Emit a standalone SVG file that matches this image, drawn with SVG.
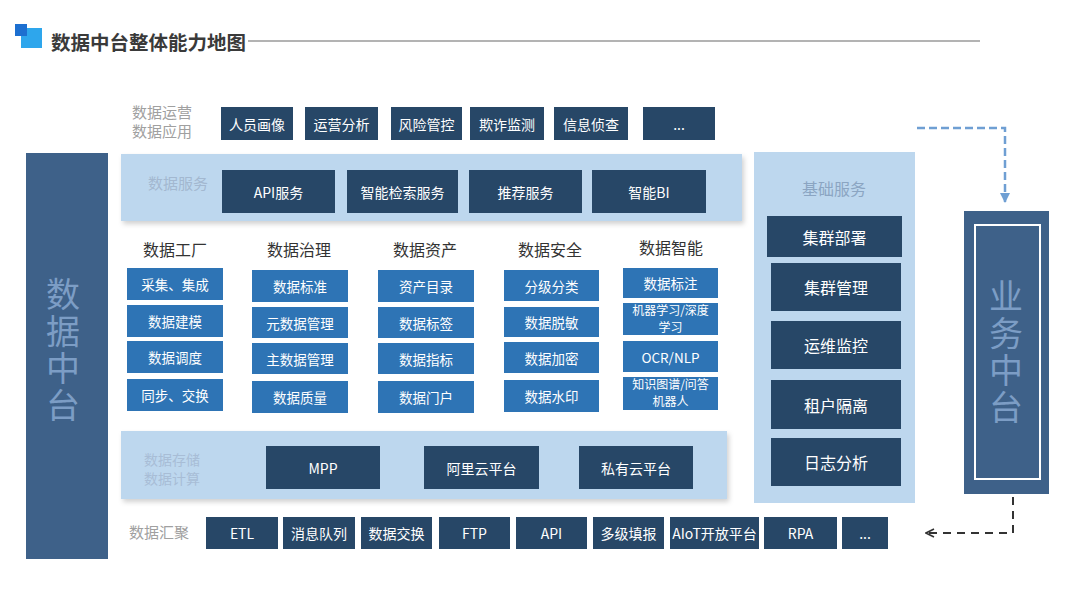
<svg xmlns="http://www.w3.org/2000/svg" width="1080" height="608" viewBox="0 0 1080 608">
<defs>
<filter id="sh" x="-5%" y="-10%" width="110%" height="130%">
<feDropShadow dx="2" dy="3" stdDeviation="2.5" flood-color="#000" flood-opacity="0.18"/>
</filter>
<marker id="ah1" viewBox="0 0 10 10" refX="9" refY="5" markerWidth="4" markerHeight="4" orient="auto">
<path d="M0,0 L10,5 L0,10 z" fill="#6f9fd3"/>
</marker>
<marker id="ah2" viewBox="0 0 10 10" refX="9" refY="5" markerWidth="5" markerHeight="5" orient="auto">
<path d="M1,1 L9,5 L1,9" fill="none" stroke="#333" stroke-width="1.6"/>
</marker>
</defs>
<style>
text{font-family:"Noto Sans CJK SC","Liberation Sans",sans-serif;}
.dk{fill:#274767;}
.md{fill:#2e74b5;}
.band{fill:#bdd7ee;}
.wt{fill:#fff;font-size:14px;text-anchor:middle;dominant-baseline:central;}
.wm{fill:#fff;font-size:13.5px;text-anchor:middle;dominant-baseline:central;}
.w2{fill:#fff;font-size:12px;text-anchor:middle;}
.wb{fill:#fff;font-size:16px;text-anchor:middle;dominant-baseline:central;}
.gl{fill:#a0a0a0;font-size:15px;}
.bl{fill:#a3b8d0;font-size:15px;}
.bs{fill:#a8bdd6;font-size:14px;}
.hd{fill:#333;font-size:16px;text-anchor:middle;dominant-baseline:central;}
.vt{fill:#7c9dc5;font-size:34px;text-anchor:middle;writing-mode:vertical-rl;letter-spacing:3px;}
</style>
<rect width="1080" height="608" fill="#fff"/>

<g id="title">
<rect x="21" y="28" width="21" height="20" fill="#2ea6ec"/>
<rect x="15" y="24" width="12" height="12" fill="#1d6fd0"/>
<text x="51" y="41" font-size="19.5" font-weight="bold" fill="#3a3a3a" dominant-baseline="central">数据中台整体能力地图</text>
<line x1="248" y1="41" x2="980" y2="41" stroke="#9a9a9a" stroke-width="1.5"/>
</g>

<g id="zhongtai">
<rect x="26" y="153" width="82" height="406" fill="#3e6189"/>
<text class="vt" x="63" y="351">数据中台</text>
</g>

<g id="app-row">
<text class="gl" x="132" y="117.5">数据运营<tspan x="132" dy="19">数据应用</tspan></text>
<rect class="dk" x="221" y="107" width="72" height="33"/><text class="wt" x="257" y="123.5">人员画像</text>
<rect class="dk" x="305" y="107" width="73" height="33"/><text class="wt" x="341.5" y="123.5">运营分析</text>
<rect class="dk" x="391" y="107" width="71" height="33"/><text class="wt" x="426.5" y="123.5">风险管控</text>
<rect class="dk" x="470" y="107" width="74" height="33"/><text class="wt" x="507" y="123.5">欺诈监测</text>
<rect class="dk" x="554" y="107" width="74" height="33"/><text class="wt" x="591" y="123.5">信息侦查</text>
<rect class="dk" x="643" y="107" width="72" height="33"/><text class="wt" x="679" y="123.5">...</text>
</g>

<g id="service">
<rect class="band" x="121" y="154" width="621" height="67" filter="url(#sh)"/>
<text class="bl" x="148" y="188.5">数据服务</text>
<rect class="dk" x="222" y="170" width="113" height="43"/><text class="wt" x="278.5" y="191.5">API服务</text>
<rect class="dk" x="347" y="170" width="111" height="43"/><text class="wt" x="402.5" y="191.5">智能检索服务</text>
<rect class="dk" x="469" y="170" width="113" height="43"/><text class="wt" x="525.5" y="191.5">推荐服务</text>
<rect class="dk" x="592" y="170" width="114" height="43"/><text class="wt" x="649" y="191.5">智能BI</text>
</g>

<g id="factory">
<text class="hd" x="175" y="249">数据工厂</text>
<rect class="md" x="127" y="268" width="96" height="32"/><text class="wm" x="175" y="284">采集、集成</text>
<rect class="md" x="127" y="305" width="96" height="32"/><text class="wm" x="175" y="321">数据建模</text>
<rect class="md" x="127" y="341" width="96" height="32"/><text class="wm" x="175" y="357">数据调度</text>
<rect class="md" x="127" y="379" width="96" height="32"/><text class="wm" x="175" y="395">同步、交换</text>
</g>

<g id="governance">
<text class="hd" x="299" y="249">数据治理</text>
<rect class="md" x="252" y="270" width="96" height="32"/><text class="wm" x="300" y="286">数据标准</text>
<rect class="md" x="252" y="307" width="96" height="31"/><text class="wm" x="300" y="322.5">元数据管理</text>
<rect class="md" x="252" y="343" width="96" height="31"/><text class="wm" x="300" y="358.5">主数据管理</text>
<rect class="md" x="252" y="381" width="96" height="32"/><text class="wm" x="300" y="397">数据质量</text>
</g>

<g id="asset">
<text class="hd" x="425" y="249">数据资产</text>
<rect class="md" x="378" y="270" width="96" height="32"/><text class="wm" x="426" y="286">资产目录</text>
<rect class="md" x="378" y="307" width="96" height="31"/><text class="wm" x="426" y="322.5">数据标签</text>
<rect class="md" x="378" y="343" width="96" height="31"/><text class="wm" x="426" y="358.5">数据指标</text>
<rect class="md" x="378" y="381" width="96" height="32"/><text class="wm" x="426" y="397">数据门户</text>
</g>

<g id="security">
<text class="hd" x="550" y="249">数据安全</text>
<rect class="md" x="504" y="270" width="95" height="31"/><text class="wm" x="551.5" y="285.5">分级分类</text>
<rect class="md" x="504" y="307" width="95" height="30"/><text class="wm" x="551.5" y="322">数据脱敏</text>
<rect class="md" x="504" y="342" width="95" height="31"/><text class="wm" x="551.5" y="357.5">数据加密</text>
<rect class="md" x="504" y="380" width="95" height="32"/><text class="wm" x="551.5" y="396">数据水印</text>
</g>

<g id="intelligence">
<text class="hd" x="671" y="247">数据智能</text>
<rect class="md" x="623" y="268" width="95" height="30"/><text class="wm" x="670.5" y="283">数据标注</text>
<rect class="md" x="623" y="303" width="95" height="32"/><text class="w2" x="670.5" y="314.5">机器学习/深度<tspan x="670.5" dy="17">学习</tspan></text>
<rect class="md" x="623" y="341" width="95" height="31"/><text class="wm" x="670.5" y="356.5">OCR/NLP</text>
<rect class="md" x="623" y="377" width="95" height="33"/><text class="w2" x="670.5" y="389">知识图谱/问答<tspan x="670.5" dy="17">机器人</tspan></text>
</g>

<g id="storage">
<rect class="band" x="121" y="431" width="606" height="68" filter="url(#sh)"/>
<text class="bs" x="144" y="465">数据存储<tspan x="144" dy="19">数据计算</tspan></text>
<rect class="dk" x="266" y="446" width="114" height="43"/><text class="wt" x="323" y="467.5">MPP</text>
<rect class="dk" x="424" y="446" width="115" height="43"/><text class="wt" x="481.5" y="467.5">阿里云平台</text>
<rect class="dk" x="579" y="446" width="114" height="43"/><text class="wt" x="636" y="467.5">私有云平台</text>
</g>

<g id="base">
<rect class="band" x="754" y="152" width="161" height="351"/>
<text x="834" y="188" font-size="16" fill="#8ba5c2" text-anchor="middle" dominant-baseline="central">基础服务</text>
<rect class="dk" x="767" y="216" width="135" height="41"/><text class="wb" x="834.5" y="236.5">集群部署</text>
<rect class="dk" x="771" y="263" width="130" height="48"/><text class="wb" x="836" y="287">集群管理</text>
<rect class="dk" x="771" y="321" width="130" height="48"/><text class="wb" x="836" y="345">运维监控</text>
<rect class="dk" x="771" y="380" width="130" height="49"/><text class="wb" x="836" y="404.5">租户隔离</text>
<rect class="dk" x="771" y="438" width="130" height="48"/><text class="wb" x="836" y="462">日志分析</text>
</g>

<g id="collect">
<text class="gl" x="129" y="537.5">数据汇聚</text>
<rect class="dk" x="206" y="517" width="72" height="32"/><text class="wt" x="242" y="533">ETL</text>
<rect class="dk" x="283" y="517" width="72" height="32"/><text class="wt" x="319" y="533">消息队列</text>
<rect class="dk" x="361" y="517" width="71" height="32"/><text class="wt" x="396.5" y="533">数据交换</text>
<rect class="dk" x="439" y="517" width="71" height="32"/><text class="wt" x="474.5" y="533">FTP</text>
<rect class="dk" x="516" y="517" width="71" height="32"/><text class="wt" x="551.5" y="533">API</text>
<rect class="dk" x="593" y="517" width="71" height="32"/><text class="wt" x="628.5" y="533">多级填报</text>
<rect class="dk" x="670" y="517" width="89" height="32"/><text class="wt" x="714.5" y="533">AIoT开放平台</text>
<rect class="dk" x="764" y="517" width="73" height="32"/><text class="wt" x="800.5" y="533">RPA</text>
<rect class="dk" x="842" y="517" width="46" height="32"/><text class="wt" x="865" y="533">...</text>
</g>

<g id="business">
<rect x="964" y="211" width="85" height="283" fill="#3e6189"/>
<rect x="975" y="225" width="65" height="254" fill="none" stroke="#fff" stroke-width="2"/>
<text class="vt" x="1006" y="353">业务中台</text>
</g>

<g id="connectors">
<path d="M917,128 H1005 V202" fill="none" stroke="#6f9fd3" stroke-width="2.5" stroke-dasharray="8,4" marker-end="url(#ah1)"/>
<path d="M1013,497 V533 H926" fill="none" stroke="#333" stroke-width="2" stroke-dasharray="8,6" marker-end="url(#ah2)"/>
</g>
</svg>
